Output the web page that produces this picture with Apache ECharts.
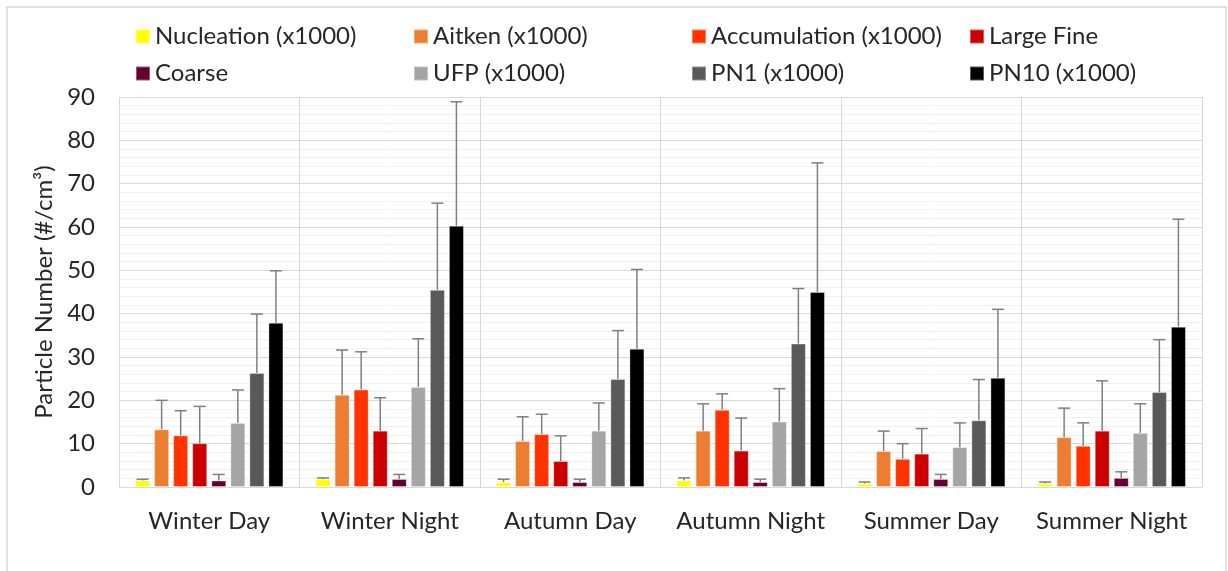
<!DOCTYPE html>
<html>
<head>
<meta charset="utf-8">
<script src="https://cdn.jsdelivr.net/npm/echarts@6/dist/echarts.min.js"></script>
<style>html,body{margin:0;padding:0;background:#fff;}#c{width:1228px;height:571px;}</style>
</head>
<body>
<div id="c"></div>
<script>
const categories = ['Winter Day', 'Winter Night', 'Autumn Day', 'Autumn Night', 'Summer Day', 'Summer Night'];
const seriesNames = ['Nucleation (x1000)', 'Aitken (x1000)', 'Accumulation (x1000)', 'Large Fine', 'Coarse', 'UFP (x1000)', 'PN1 (x1000)', 'PN10 (x1000)'];
const seriesColors = ['#FFFF00', '#ED7D31', '#FF3300', '#CC0000', '#660033', '#A5A5A5', '#595959', '#000000'];

const nucleation = [1.5, 1.8, 1.1, 1.5, 0.8, 0.8];
const aitken = [13.3, 21.3, 10.6, 13.0, 8.3, 11.5];
const accumulation = [11.9, 22.5, 12.2, 17.8, 6.5, 9.5];
const largeFine = [10.1, 13.0, 6.0, 8.4, 7.7, 13.0];
const coarse = [1.5, 1.85, 1.15, 1.15, 1.85, 2.1];
const ufp = [14.8, 23.1, 13.0, 15.1, 9.2, 12.5];
const pn1 = [26.3, 45.5, 24.9, 33.1, 15.4, 21.9];
const pn10 = [37.9, 60.3, 31.9, 45.0, 25.2, 37.0];

const nucleationSd = [0.3, 0.3, 0.7, 0.6, 0.35, 0.35];
const aitkenSd = [6.7, 10.3, 5.6, 6.2, 4.6, 6.7];
const accumulationSd = [5.7, 8.7, 4.6, 3.7, 3.5, 5.3];
const largeFineSd = [8.5, 7.6, 5.8, 7.5, 5.8, 11.5];
const coarseSd = [1.4, 1.05, 0.65, 0.65, 1.05, 1.4];
const ufpSd = [7.6, 11.1, 6.4, 7.6, 5.6, 6.7];
const pn1Sd = [13.6, 20.0, 11.2, 12.7, 9.4, 12.1];
const pn10Sd = [12.0, 28.6, 18.3, 29.8, 15.8, 24.8];

const yTicks = { min: 0, max: 90, interval: 10 };

const means = [nucleation, aitken, accumulation, largeFine, coarse, ufp, pn1, pn10];
const sds = [nucleationSd, aitkenSd, accumulationSd, largeFineSd, coarseSd, ufpSd, pn1Sd, pn10Sd];

const BAR_W = 15, BAR_GAP = 0.27;
const FONT = 'Lato';

const barSeries = seriesNames.map((n, i) => ({
  name: n,
  type: 'bar',
  data: means[i],
  barWidth: BAR_W,
  barGap: (BAR_GAP * 100) + '%',
  itemStyle: { color: seriesColors[i], borderColor: 'rgba(255,255,255,0.35)', borderWidth: 1 },
  emphasis: { disabled: true },
  z: 2
}));

const errData = [];
means.forEach((arr, s) => arr.forEach((v, c) => errData.push([c, s, v, v + sds[s][c]])));

const errSeries = {
  type: 'custom',
  name: 'err',
  data: errData,
  z: 5,
  silent: true,
  renderItem: function (params, api) {
    const c = api.value(0), s = api.value(1);
    const step = BAR_W * (1 + BAR_GAP);
    const base = api.coord([c, api.value(2)]);
    const top = api.coord([c, api.value(3)]);
    const x = base[0] + (s - 3.5) * step;
    const cap = 6;
    const st = { stroke: '#7F7F7F', lineWidth: 1.5 };
    return {
      type: 'group',
      children: [
        { type: 'line', shape: { x1: x, y1: base[1], x2: x, y2: top[1] }, style: st },
        { type: 'line', shape: { x1: x - cap, y1: top[1], x2: x + cap, y2: top[1] }, style: st }
      ]
    };
  }
};

const chart = echarts.init(document.getElementById('c'), null, { renderer: 'canvas' });
chart.setOption({
  animation: false,
  backgroundColor: '#fff',
  textStyle: { fontFamily: FONT },
  graphic: [{
    type: 'rect', shape: { x: 7, y: 7, width: 1219, height: 580 },
    style: { fill: 'none', stroke: '#D9D9D9', lineWidth: 1.5 }, silent: true, z: -1
  }],
  legend: {
    data: seriesNames,
    left: 130, top: 13, width: 1120,
    itemWidth: 14, itemHeight: 14, itemGap: 0,
    icon: 'rect',
    textStyle: { fontFamily: FONT, fontSize: 24, color: '#262626', width: 258, lineHeight: 37 },
    selectedMode: false
  },
  grid: { left: 119, right: 26, top: 97, bottom: 84, containLabel: false },
  xAxis: {
    type: 'category',
    data: categories,
    axisLine: { show: true, lineStyle: { color: '#D9D9D9' } },
    axisTick: { show: false, interval: 0 },
    splitLine: { show: true, interval: 0, lineStyle: { color: '#D9D9D9', width: 1 } },
    axisLabel: { interval: 0, hideOverlap: false, fontFamily: FONT, fontSize: 24, color: '#262626', margin: 22 }
  },
  yAxis: {
    type: 'value',
    min: yTicks.min, max: yTicks.max, interval: yTicks.interval,
    name: 'Particle Number (#/cm³)',
    nameLocation: 'middle',
    nameGap: 63,
    nameTextStyle: { fontFamily: FONT, fontSize: 24, color: '#262626' },
    axisLine: { show: false },
    axisTick: { show: false },
    axisLabel: { fontFamily: FONT, fontSize: 24, color: '#262626', margin: 24 },
    splitLine: { show: true, lineStyle: { color: '#D9D9D9', width: 1.2 } },
    minorTick: { show: false, splitNumber: 5 },
    minorSplitLine: { show: true, lineStyle: { color: '#F0F0F0', width: 1 } }
  },
  series: barSeries.concat([errSeries])
});
</script>
</body>
</html>
